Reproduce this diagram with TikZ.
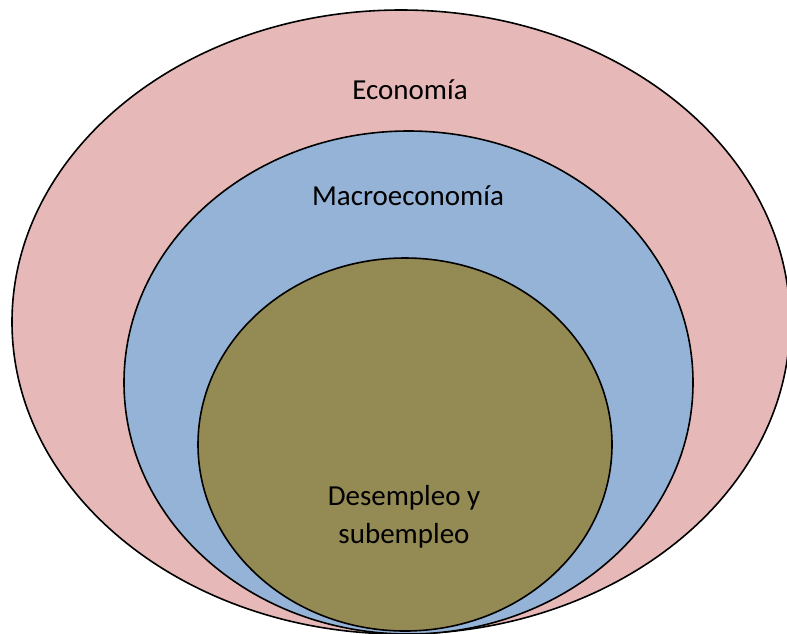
\documentclass[tikz,border=0pt]{standalone}
\usepackage{fontspec}
\setmainfont{Carlito}
\usetikzlibrary{positioning}
\definecolor{econpink}{HTML}{E6B9B8}
\definecolor{macroblue}{HTML}{95B3D7}
\definecolor{olivegreen}{HTML}{948A54}

\begin{document}
\begin{tikzpicture}[x=1pt, y=-1pt,
        ring/.style={draw=black, line width=1.6pt},
        lbl/.style={font=\fontsize{29}{38}\selectfont, align=center, inner sep=0pt}]
            \clip (0,0) rectangle (787,633);
            \filldraw[ring, fill=econpink] (401,322) ellipse [x radius=389, y radius=312];
            \filldraw[ring, fill=macroblue] (408.5,382.5) ellipse [x radius=284.5, y radius=251.5];
            \filldraw[ring, fill=olivegreen] (405,444.5) ellipse [x radius=207, y radius=186.5];
            
            \node[lbl, anchor=base] (economia) at (410,99) {Economía};
            \node[lbl, anchor=base] (macro) at (408,205) {Macroeconomía};
            \node[lbl] (desempleo) at (404,517) {Desempleo y\\subempleo};
\end{tikzpicture}
\end{document}
